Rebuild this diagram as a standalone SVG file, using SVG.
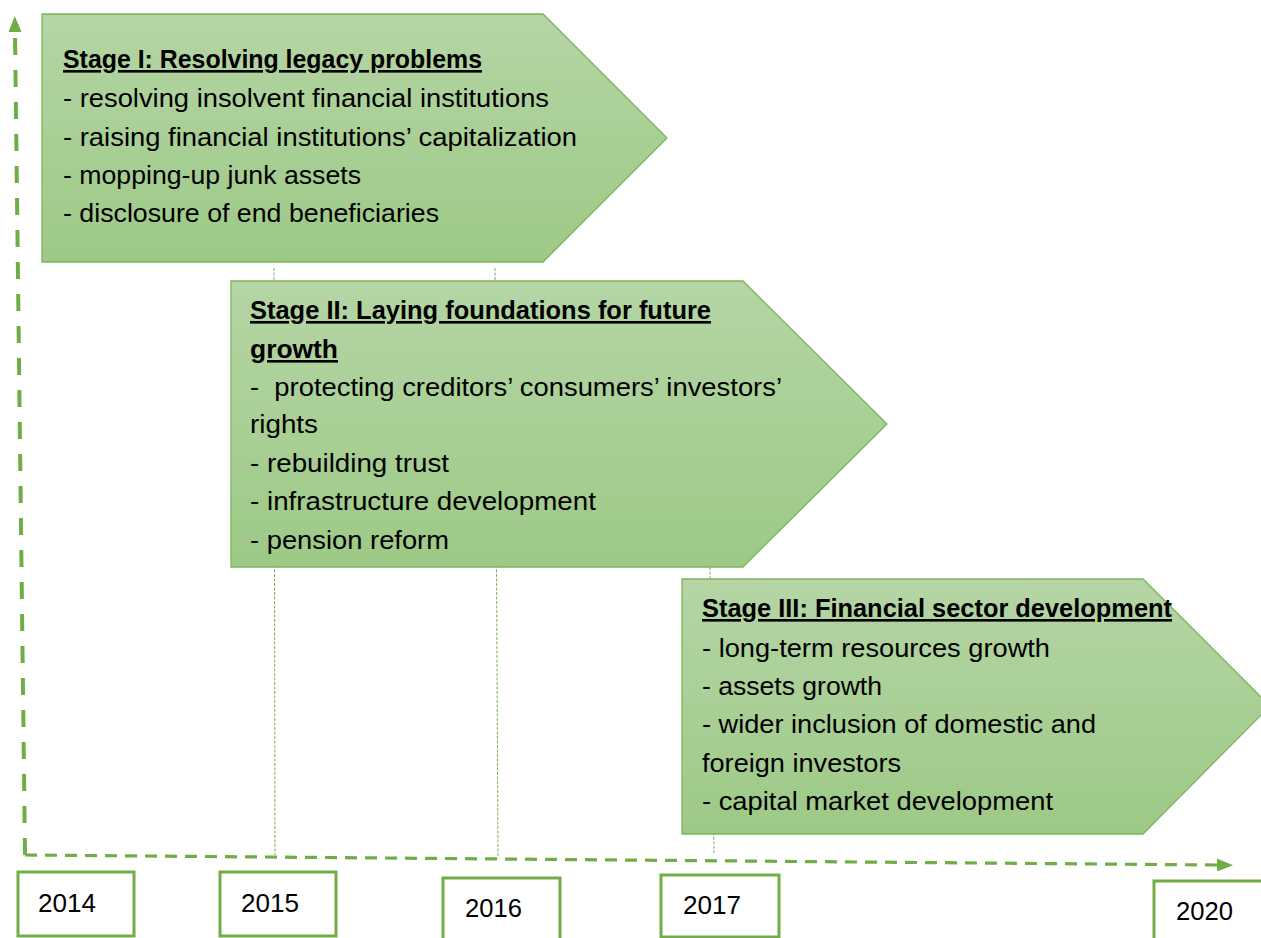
<svg xmlns="http://www.w3.org/2000/svg" width="1261" height="938" viewBox="0 0 1261 938">
<style>
.stage{stroke:#7bb55a;stroke-width:1.3;}
.t{font-family:"Liberation Sans",Arial,sans-serif;font-size:26px;fill:#000;}
.b{font-weight:bold;text-decoration:underline;}
.grid{stroke:#7aae5c;stroke-width:1;stroke-dasharray:3 1.5;fill:none;}
.axis{stroke:#70ad47;fill:none;}
.yr{fill:#fff;stroke:#70ad47;stroke-width:3;}
.yt{font-family:"Liberation Sans",Arial,sans-serif;font-size:26px;fill:#000;}
</style>
<defs>
<linearGradient id="g" x1="0" y1="0" x2="0" y2="1">
<stop offset="0" stop-color="#b5d5a5"/>
<stop offset="1" stop-color="#9dc986"/>
</linearGradient>
<marker id="ah" viewBox="0 0 16 13" refX="0" refY="6.5" markerWidth="16" markerHeight="13" markerUnits="userSpaceOnUse" orient="auto">
<path d="M0,0 L16,6.5 L0,13 z" fill="#70ad47"/>
</marker>
</defs>
<rect width="1261" height="938" fill="#fff"/>
<g id="connectors">
<line class="grid" x1="274" y1="268" x2="275" y2="855"/>
<line class="grid" x1="495" y1="268" x2="498" y2="858"/>
<line class="grid" x1="710" y1="567" x2="714" y2="853"/>
<path class="axis" d="M25,855 L15,32" stroke-width="4" stroke-dasharray="17 15" marker-end="url(#ah)"/>
<path class="axis" d="M25,855 L1217,865" stroke-width="3.2" stroke-dasharray="12 8" marker-end="url(#ah)"/>
</g>
<g id="stage1">
<path class="stage" fill="url(#g)" d="M42,14 L543,14 L667,138 L543,262 L42,262 Z"/>
<text class="t b" x="63" y="68" textLength="419" lengthAdjust="spacingAndGlyphs">Stage I: Resolving legacy problems</text>
<text class="t" x="63" y="107" textLength="486" lengthAdjust="spacingAndGlyphs">- resolving insolvent financial institutions</text>
<text class="t" x="63" y="146" textLength="514" lengthAdjust="spacingAndGlyphs">- raising financial institutions’ capitalization</text>
<text class="t" x="63" y="184" textLength="298" lengthAdjust="spacingAndGlyphs">- mopping-up junk assets</text>
<text class="t" x="63" y="222" textLength="376" lengthAdjust="spacingAndGlyphs">- disclosure of end beneficiaries</text>
</g>
<g id="stage2">
<path class="stage" fill="url(#g)" d="M231,281 L743,281 L887,424 L743,567 L231,567 Z"/>
<text class="t b" x="250" y="319" textLength="461" lengthAdjust="spacingAndGlyphs">Stage II: Laying foundations for future</text>
<text class="t b" x="250" y="358" textLength="88" lengthAdjust="spacingAndGlyphs">growth</text>
<text class="t" x="250" y="396" textLength="532" lengthAdjust="spacingAndGlyphs" style="white-space:pre">-  protecting creditors’ consumers’ investors’</text>
<text class="t" x="250" y="433" textLength="68" lengthAdjust="spacingAndGlyphs">rights</text>
<text class="t" x="250" y="472" textLength="199" lengthAdjust="spacingAndGlyphs">- rebuilding trust</text>
<text class="t" x="250" y="510" textLength="346" lengthAdjust="spacingAndGlyphs">- infrastructure development</text>
<text class="t" x="250" y="549" textLength="199" lengthAdjust="spacingAndGlyphs">- pension reform</text>
</g>
<g id="stage3">
<path class="stage" fill="url(#g)" d="M682,579 L1143,579 L1270,706 L1143,834 L682,834 Z"/>
<text class="t b" x="702" y="617" textLength="470" lengthAdjust="spacingAndGlyphs">Stage III: Financial sector development</text>
<text class="t" x="702" y="657" textLength="348" lengthAdjust="spacingAndGlyphs">- long-term resources growth</text>
<text class="t" x="702" y="695" textLength="180" lengthAdjust="spacingAndGlyphs">- assets growth</text>
<text class="t" x="702" y="733" textLength="394" lengthAdjust="spacingAndGlyphs">- wider inclusion of domestic and</text>
<text class="t" x="702" y="772" textLength="199" lengthAdjust="spacingAndGlyphs">foreign investors</text>
<text class="t" x="702" y="810" textLength="351" lengthAdjust="spacingAndGlyphs">- capital market development</text>
</g>
<g id="y2014">
<rect class="yr" x="18" y="872" width="116" height="64"/>
<text class="yt" x="38" y="912" textLength="58" lengthAdjust="spacingAndGlyphs">2014</text>
</g>
<g id="y2015">
<rect class="yr" x="220" y="872" width="116" height="64"/>
<text class="yt" x="241" y="912" textLength="58" lengthAdjust="spacingAndGlyphs">2015</text>
</g>
<g id="y2016">
<rect class="yr" x="443" y="878" width="117" height="70"/>
<text class="yt" x="465" y="917" textLength="57" lengthAdjust="spacingAndGlyphs">2016</text>
</g>
<g id="y2017">
<rect class="yr" x="661" y="875" width="118" height="62"/>
<text class="yt" x="683" y="914" textLength="58" lengthAdjust="spacingAndGlyphs">2017</text>
</g>
<g id="y2020">
<rect class="yr" x="1154" y="881" width="120" height="70"/>
<text class="yt" x="1176" y="920" textLength="57" lengthAdjust="spacingAndGlyphs">2020</text>
</g>
</svg>
